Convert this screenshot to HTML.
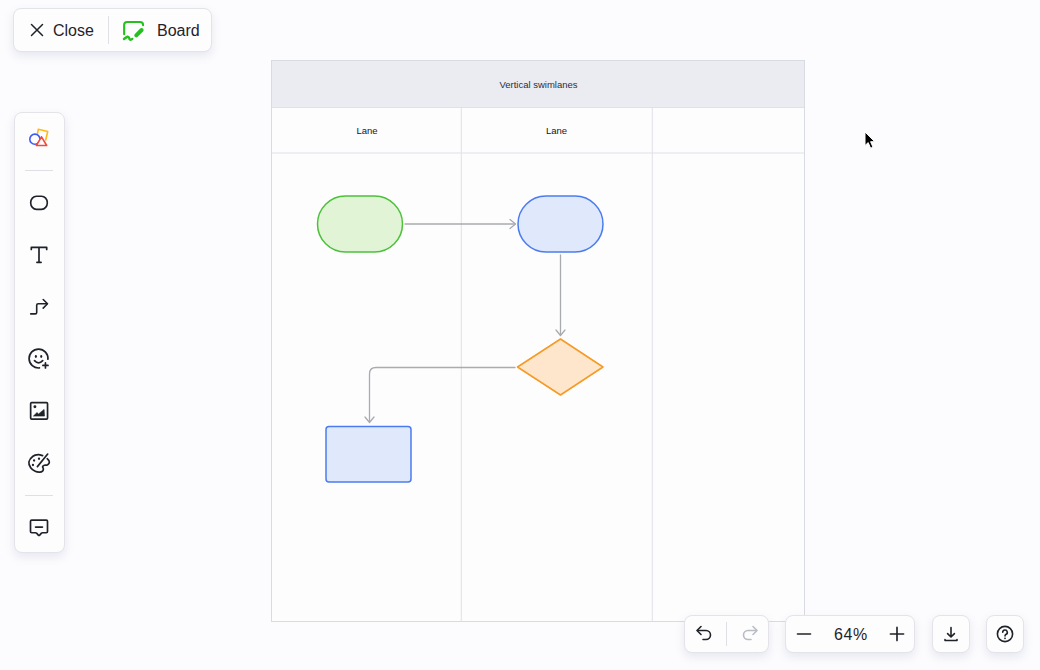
<!DOCTYPE html>
<html><head><meta charset="utf-8">
<style>
*{box-sizing:border-box;margin:0;padding:0}
html,body{width:1040px;height:670px;overflow:hidden;background:#fcfcfe;font-family:"Liberation Sans",sans-serif;color:#1f2329}
.panel{position:absolute;background:#fdfdfe;border:1px solid #e3e4ea;border-radius:8px;box-shadow:0 4px 10px rgba(120,125,160,.16)}
.abs{position:absolute}
svg{position:absolute;overflow:visible}
.txt{position:absolute;white-space:nowrap;line-height:1}
</style></head><body>

<!-- canvas drawing -->
<svg id="cv" width="1040" height="670" style="left:0;top:0">
  <rect x="271.500" y="60.500" width="533" height="561" fill="#fdfdfe" stroke="#d9dbe3"/>
  <rect x="272" y="61" width="532" height="46.500" fill="#ebebf2"/>
  <g stroke="#dfe0ea" fill="none">
    <path d="M272 107.500H804M272 153H804M461.300 107.500V621M652.300 107.500V621"/>
  </g>
  <!-- connectors -->
  <g stroke="#a9abae" stroke-width="1.3" fill="none" stroke-linecap="round" stroke-linejoin="round">
    <path d="M405 224H515"/><path d="M510 219.5L515.5 224L510 228.5"/>
    <path d="M560.5 255V335"/><path d="M556 330L560.5 335.5L565 330"/>
    <path d="M515 367.5H376Q369.5 367.5 369.5 374V422"/><path d="M365 417L369.5 422.5L374 417"/>
  </g>
  <!-- shapes -->
  <rect x="317.5" y="196" width="85" height="56" rx="28" fill="#e1f5d6" stroke="#4cc13c" stroke-width="1.5"/>
  <rect x="518" y="196" width="85" height="56" rx="28" fill="#e0e9fb" stroke="#4a7cf0" stroke-width="1.5"/>
  <path d="M517.5 367L560.5 339L603 367L560.5 395Z" fill="#fde6cb" stroke="#f59a23" stroke-width="1.5" stroke-linejoin="round"/>
  <rect x="326" y="426.5" width="85" height="55.500" rx="3" fill="#e0e9fb" stroke="#4a7cf0" stroke-width="1.5"/>
</svg>
<div class="txt" style="left:272px;width:533px;top:79.500px;text-align:center;font-size:9.500px;color:#2b2f36">Vertical swimlanes</div>
<div class="txt" style="left:272px;width:190px;top:125.500px;text-align:center;font-size:9.500px;color:#14161a">Lane</div>
<div class="txt" style="left:461px;width:191px;top:125.500px;text-align:center;font-size:9.500px;color:#14161a">Lane</div>

<!-- top bar -->
<div class="panel" id="topbar" style="left:13px;top:8px;width:199px;height:44px"></div>
<svg width="14" height="14" style="left:30px;top:23px" viewBox="0 0 14 14"><path d="M1.500 1.500L12.500 12.500M12.500 1.500L1.500 12.500" stroke="#1f2329" stroke-width="1.500" stroke-linecap="round"/></svg>
<div class="txt" style="left:53px;top:23px;font-size:16px">Close</div>
<div class="abs" style="left:108px;top:16px;width:1px;height:28px;background:#dfe0e6"></div>
<svg id="boardico" width="24" height="22" style="left:122px;top:20px" viewBox="0 0 24 22" fill="none" stroke="#25c01f" stroke-linecap="round" stroke-linejoin="round">
  <path d="M2.150 14.300V5.050Q2.150 2.050 5.150 2.050H18.050Q21.050 2.050 21.050 5.050V5.300" stroke-width="2.100"/>
  <path d="M2 19Q4 17.400 5.600 16.600Q7 17 7.600 19.100Q8.700 20.300 10.300 18.900" stroke-width="2.400"/>
  <path d="M14.300 15.300L19.600 10" stroke-width="4"/>
</svg>
<div class="txt" style="left:157px;top:23px;font-size:16px">Board</div>

<!-- left toolbar -->
<div class="panel" id="leftbar" style="left:14px;top:112px;width:51px;height:441px"></div>
<div class="abs" style="left:25px;top:170px;width:28px;height:1px;background:#dfe0e6"></div>
<div class="abs" style="left:25px;top:495px;width:28px;height:1px;background:#dfe0e6"></div>

<!-- bottom controls -->
<div class="panel" style="left:684px;top:615px;width:85px;height:38px"></div>
<div class="abs" style="left:726px;top:622px;width:1px;height:24px;background:#dfe0e6"></div>
<div class="panel" style="left:785px;top:615px;width:130px;height:38px"></div>
<div class="txt" style="left:786px;width:129px;top:627px;text-align:center;font-size:16px;letter-spacing:.6px;padding-left:1px">64%</div>
<div class="panel" style="left:932px;top:615px;width:38px;height:38px"></div>
<div class="panel" style="left:986px;top:615px;width:38px;height:38px"></div>


<!-- left toolbar icons -->
<svg id="i-shapes" width="24" height="24" style="left:27px;top:126px" viewBox="0 0 24 24" fill="none" stroke-width="1.600" stroke-linejoin="round" stroke-linecap="round">
  <path d="M10.500 7.600L11.300 3.300L20.700 5.500L18.700 14" stroke="#ffb81a"/>
  <circle cx="7.900" cy="13.200" r="5.100" stroke="#3d5af5"/>
  <path d="M14.500 10.800L19.700 19.500H9.300Z" stroke="#f5483d" fill="#fdfdfe"/>
</svg>
<svg id="i-ellipse" width="24" height="24" style="left:27px;top:191px" viewBox="0 0 24 24" fill="none" stroke="#1f2329" stroke-width="1.650">
  <rect x="3.670" y="5.240" width="16.660" height="13.080" rx="5.800" ry="6.540"/>
</svg>
<svg id="i-text" width="24" height="24" style="left:27px;top:243px" viewBox="0 0 24 24" fill="none" stroke="#1f2329" stroke-width="1.700" stroke-linecap="round" stroke-linejoin="round">
  <path d="M4.300 6.500V4.450H19.700V6.500M12 4.450V19.300M9.900 19.300H14.100"/>
</svg>
<svg id="i-conn" width="24" height="24" style="left:27px;top:295px" viewBox="0 0 24 24" fill="none" stroke="#1f2329" stroke-width="1.600" stroke-linecap="round" stroke-linejoin="round">
  <path d="M3.700 18.900H8.200Q9.700 18.900 9.700 17.400V10.300Q9.700 8.800 11.200 8.800H20"/><path d="M16.200 4.500L20.500 8.800L16.200 13.100"/>
</svg>
<svg id="i-emoji" width="24" height="24" style="left:27px;top:347px" viewBox="0 0 24 24" fill="none" stroke="#1f2329" stroke-width="1.700" stroke-linecap="round">
  <path d="M20.950 12.200A9.450 9.450 0 1 0 12.400 20.950"/>
  <path d="M7.500 13.600Q11.550 18 15.700 13.600"/>
  <path d="M18.450 15.900V21M15.900 18.450H21"/>
  <ellipse cx="8.870" cy="9.500" rx="1.050" ry="1.450" fill="#1f2329" stroke="none"/><ellipse cx="14.240" cy="9.500" rx="1.050" ry="1.450" fill="#1f2329" stroke="none"/>
</svg>
<svg id="i-image" width="24" height="24" style="left:27px;top:399px" viewBox="0 0 24 24" fill="none" stroke="#1f2329" stroke-width="1.700" stroke-linejoin="round">
  <rect x="3.650" y="3.650" width="16.900" height="16.450" rx="1"/>
  <path d="M6.400 17.100L10 13.500L11.550 15L17.100 10.400L17.500 17.100Z" fill="#1f2329" stroke-width="0.600"/>
  <circle cx="7.900" cy="7.750" r="1.450" fill="#1f2329" stroke="none"/>
</svg>
<svg id="i-palette" width="24" height="24" style="left:27px;top:451px" viewBox="0 0 24 24" fill="none" stroke="#1f2329" stroke-width="1.700" stroke-linecap="round" stroke-linejoin="round">
  <path d="M15.60 4.60C14.88 4.45 12.91 3.58 11.30 3.70C9.69 3.82 7.52 4.10 5.95 5.30C4.38 6.50 2.27 9.00 1.90 10.90C1.52 12.80 2.65 15.13 3.70 16.70C4.75 18.27 6.70 19.55 8.20 20.30C9.70 21.05 11.43 21.28 12.70 21.20C13.97 21.12 15.19 20.42 15.80 19.80C16.41 19.18 16.38 18.17 16.35 17.50C16.32 16.83 15.43 16.33 15.60 15.80C15.77 15.27 16.62 14.60 17.40 14.30C18.18 14.00 19.52 14.35 20.30 14.00C21.08 13.65 21.80 12.87 22.10 12.20C22.40 11.53 22.40 10.74 22.10 10.00C21.80 9.26 20.60 8.12 20.30 7.75"/>
  <path d="M20.700 3.050L10.400 15.600"/>
  <circle cx="12" cy="7.750" r="1.150" fill="#1f2329" stroke="none"/><circle cx="7.100" cy="9.500" r="1.150" fill="#1f2329" stroke="none"/><circle cx="5.950" cy="14" r="1.150" fill="#1f2329" stroke="none"/>
</svg>
<svg id="i-comment" width="24" height="24" style="left:27px;top:516px" viewBox="0 0 24 24" fill="none" stroke="#1f2329" stroke-width="1.700" stroke-linecap="round" stroke-linejoin="round">
  <path d="M4.700 4.100H19.300Q20.500 4.100 20.500 5.300V15.550Q20.500 16.750 19.300 16.750H15.600Q14.800 16.750 14.200 17.400L12.700 19.100Q12 19.800 11.300 19.100L9.800 17.400Q9.200 16.750 8.400 16.750H4.700Q3.500 16.750 3.500 15.550V5.300Q3.500 4.100 4.700 4.100Z"/>
  <path d="M8.600 11.100H15.400"/>
</svg>
<!-- bottom icons -->
<svg id="i-undo" width="20" height="20" style="left:694px;top:623.300px" viewBox="0 0 20 20" fill="none" stroke="#1f2329" stroke-width="1.600" stroke-linecap="round" stroke-linejoin="round">
  <path d="M7 3.500L3 7.500L7 11.500"/><path d="M3.500 7.500H12A4.500 4.500 0 0 1 12 16.500H9"/>
</svg>
<svg id="i-redo" width="20" height="20" style="left:740px;top:623.300px" viewBox="0 0 20 20" fill="none" stroke="#b9bcc4" stroke-width="1.600" stroke-linecap="round" stroke-linejoin="round">
  <path d="M13 3.500L17 7.500L13 11.500"/><path d="M16.500 7.500H8A4.500 4.500 0 0 0 8 16.500H11"/>
</svg>
<svg id="i-minus" width="20" height="20" style="left:794px;top:624px" viewBox="0 0 20 20" stroke="#1f2329" stroke-width="1.650" stroke-linecap="round"><path d="M3.500 10H16.500"/></svg>
<svg id="i-plus" width="20" height="20" style="left:887px;top:624px" viewBox="0 0 20 20" stroke="#1f2329" stroke-width="1.650" stroke-linecap="round"><path d="M3.400 10H16.600M10 3.400V16.600"/></svg>
<svg id="i-dl" width="20" height="20" style="left:941px;top:624px" viewBox="0 0 20 20" fill="none" stroke="#1f2329" stroke-width="1.600" stroke-linecap="round" stroke-linejoin="round">
  <path d="M10 3.500V12.800M6.600 9.600L10 13L13.400 9.600M4 15.600V16.500H16V15.600"/>
</svg>
<svg id="i-help" width="20" height="20" style="left:995px;top:624px" viewBox="0 0 20 20" fill="none" stroke="#1f2329" stroke-width="1.600" stroke-linecap="round">
  <circle cx="10" cy="10" r="7.600"/>
  <path d="M7.700 8.300A2.300 2.300 0 1 1 10.800 10.500Q10 11 10 12"/>
  <circle cx="10" cy="14.300" r="0.900" fill="#1f2329" stroke="none"/>
</svg>
<!-- mouse cursor -->
<svg id="cursor" width="14" height="20" style="left:864px;top:131px" viewBox="0 0 14 20">
  <path d="M1 1V14.500L4.200 11.600L6.600 17.200L9 16.200L6.600 10.700H10.800Z" fill="#000" stroke="#fff" stroke-width="1" stroke-linejoin="round"/>
</svg>

</body></html>
